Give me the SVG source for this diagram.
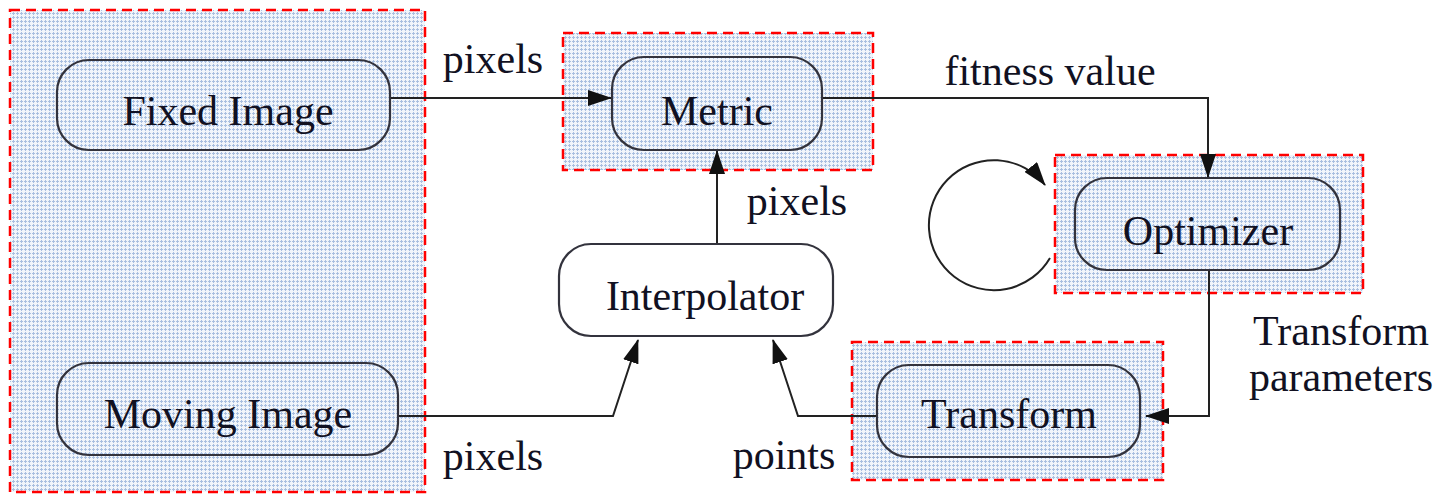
<svg xmlns="http://www.w3.org/2000/svg" width="1443" height="495" viewBox="0 0 1443 495">
<defs>
<pattern id="dots" width="4" height="4" patternUnits="userSpaceOnUse">
<rect width="4" height="4" fill="#f1f5fb"/>
<rect x="1" y="0" width="1" height="3" fill="#a9bfe0"/>
<rect x="0" y="1" width="3" height="1" fill="#a9bfe0"/>
</pattern>
<marker id="arr" markerWidth="24" markerHeight="16" refX="23" refY="8" orient="auto" markerUnits="userSpaceOnUse">
<path d="M0,0 L24,8 L0,16 Z" fill="#111"/>
</marker>
</defs>
<style>
.grp{fill:url(#dots);stroke:#ff0000;stroke-width:2.5;stroke-dasharray:10 6}
.node{fill:url(#dots);stroke:#33333d;stroke-width:2.2}
.plain{fill:#ffffff;stroke:#33333d;stroke-width:2.2}
.t{font-family:"Liberation Serif","Times New Roman",serif;font-size:42px;fill:#111122;text-anchor:middle}
.c{fill:none;stroke:#222;stroke-width:2;marker-end:url(#arr)}
</style>
<rect width="1443" height="495" fill="#ffffff"/>
<g id="group-images"><rect class="grp" x="10" y="10" width="415" height="482"/></g>
<g id="group-metric"><rect class="grp" x="563" y="33" width="310" height="137"/></g>
<g id="group-optimizer"><rect class="grp" x="1055" y="155" width="308" height="138"/></g>
<g id="group-transform"><rect class="grp" x="852" y="342" width="311" height="138"/></g>
<g id="connectors">
<path class="c" d="M390,98 L611,98"/>
<path class="c" d="M822,98 L1208,98 L1208,177"/>
<path class="c" d="M717,243 L717,151"/>
<path class="c" d="M398,416 L613,416 L638,340"/>
<path class="c" d="M877,416 L798,416 L773,340"/>
<path class="c" d="M1209,270 L1209,416 L1146,416"/>
<path class="c" d="M1050,258 A65,65 0 1 1 1045,185"/>
</g>
<g id="fixed-image"><rect class="node" x="57" y="60" width="333" height="90" rx="32"/><text class="t" x="228" y="125">Fixed Image</text></g>
<g id="moving-image"><rect class="node" x="57" y="363" width="341" height="92" rx="32"/><text class="t" x="228" y="428">Moving Image</text></g>
<g id="metric"><rect class="node" x="612" y="57" width="210" height="93" rx="32"/><text class="t" x="717" y="125">Metric</text></g>
<g id="optimizer"><rect class="node" x="1075" y="178" width="265" height="92" rx="32"/><text class="t" x="1208" y="245">Optimizer</text></g>
<g id="transform"><rect class="node" x="877" y="365" width="263" height="92" rx="32"/><text class="t" x="1009" y="428">Transform</text></g>
<g id="interpolator"><rect class="plain" x="559" y="244" width="274" height="92" rx="32"/><text class="t" x="705" y="310">Interpolator</text></g>
<g id="labels">
<text class="t" x="493" y="73">pixels</text>
<text class="t" x="1050" y="85">fitness value</text>
<text class="t" x="797" y="215">pixels</text>
<text class="t" x="493" y="470">pixels</text>
<text class="t" x="784" y="469">points</text>
<text class="t" x="1341" y="345">Transform</text>
<text class="t" x="1341" y="391">parameters</text>
</g>
</svg>
